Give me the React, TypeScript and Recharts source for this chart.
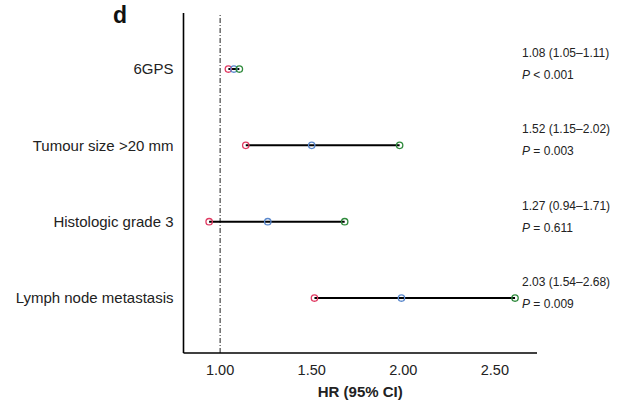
import React from "react";
import { ComposedChart, XAxis, YAxis, Scatter, ReferenceLine, Label } from "recharts";

const categories = ["6GPS", "Tumour size >20 mm", "Histologic grade 3", "Lymph node metastasis"];
const hrValues = [1.075, 1.5, 1.26, 1.99];
const lowerValues = [1.045, 1.14, 0.94, 1.515];
const upperValues = [1.105, 1.98, 1.68, 2.61];
const hrLabels = ["1.08 (1.05–1.11)", "1.52 (1.15–2.02)", "1.27 (0.94–1.71)", "2.03 (1.54–2.68)"];
const pLabels = ["< 0.001", "= 0.003", "= 0.611", "= 0.009"];
const xTicks = [1, 1.5, 2, 2.5];

const FONT = "'Liberation Sans', Arial, Helvetica, sans-serif";
const ANNOT_X = 522;

const rows = categories.map((c, i) => ({ i, c, lo: lowerValues[i], hr: hrValues[i], hi: upperValues[i] }));
const loData = rows.map((r) => ({ x: r.lo, y: r.i }));
const hrData = rows.map((r) => ({ x: r.hr, y: r.i }));
const hiData = rows.map((r) => ({ x: r.hi, y: r.i }));
const annData = rows.map((r) => ({ x: r.hi, y: r.i, t1: hrLabels[r.i], t2: pLabels[r.i] }));

const circle = (color: string) => (props: any) => (
  <circle cx={props.cx} cy={props.cy} r={3.2} fill="none" stroke={color} strokeWidth={1.3} />
);

const annShape = (props: any) => {
  const p = props.payload || {};
  return (
    <g fontFamily={FONT} fontSize={12} fill="#222">
      <text x={ANNOT_X} y={props.cy - 12}>{p.t1}</text>
      <text x={ANNOT_X} y={props.cy + 10}>
        <tspan fontStyle="italic">P</tspan>
        <tspan> {p.t2}</tspan>
      </text>
    </g>
  );
};

export default function App() {
  return (
    <div style={{ position: "absolute", left: 0, top: 0, width: 621, height: 408, background: "#fff" }}>
      <div
        style={{
          position: "absolute",
          left: 113,
          top: 4,
          fontSize: 23,
          lineHeight: 1,
          fontWeight: "bold",
          fontFamily: FONT,
          color: "#111",
        }}
      >
        d
      </div>
      <ComposedChart width={621} height={408} margin={{ top: 13, right: 84, bottom: 0, left: 13 }}>
        <XAxis
          type="number"
          dataKey="x"
          domain={[0.8, 2.73]}
          ticks={xTicks}
          tickFormatter={(v: number) => v.toFixed(2)}
          tickLine={false}
          axisLine={{ stroke: "#000", strokeWidth: 1.6 }}
          tick={{ fontSize: 14.5, fill: "#222", fontFamily: FONT }}
          tickMargin={6}
          height={55}
        >
          <Label
            value="HR (95% CI)"
            position="insideBottom"
            offset={11}
            style={{ fontSize: 15, fontWeight: "bold", fill: "#222", fontFamily: FONT }}
          />
        </XAxis>
        <YAxis
          type="number"
          dataKey="y"
          domain={[-0.734, 3.72]}
          reversed
          ticks={[0, 1, 2, 3]}
          tickFormatter={(v: number) => categories[v] ?? ""}
          tickLine={false}
          axisLine={{ stroke: "#000", strokeWidth: 1.6 }}
          tick={{ fontSize: 15, fill: "#222", fontFamily: FONT }}
          tickMargin={4}
          width={170.5}
        />
        <ReferenceLine x={1} stroke="#444" strokeDasharray="5 2 1 2" strokeWidth={1.2} />
        {rows.map((r) => (
          <ReferenceLine
            key={r.c}
            segment={[
              { x: r.lo, y: r.i },
              { x: r.hi, y: r.i },
            ]}
            stroke="#000"
            strokeWidth={2}
            ifOverflow="visible"
          />
        ))}
        <Scatter data={loData} shape={circle("#e03a62")} isAnimationActive={false} />
        <Scatter data={hrData} shape={circle("#5a88cc")} isAnimationActive={false} />
        <Scatter data={hiData} shape={circle("#2f8a3c")} isAnimationActive={false} />
        <Scatter data={annData} shape={annShape} isAnimationActive={false} />
      </ComposedChart>
    </div>
  );
}
